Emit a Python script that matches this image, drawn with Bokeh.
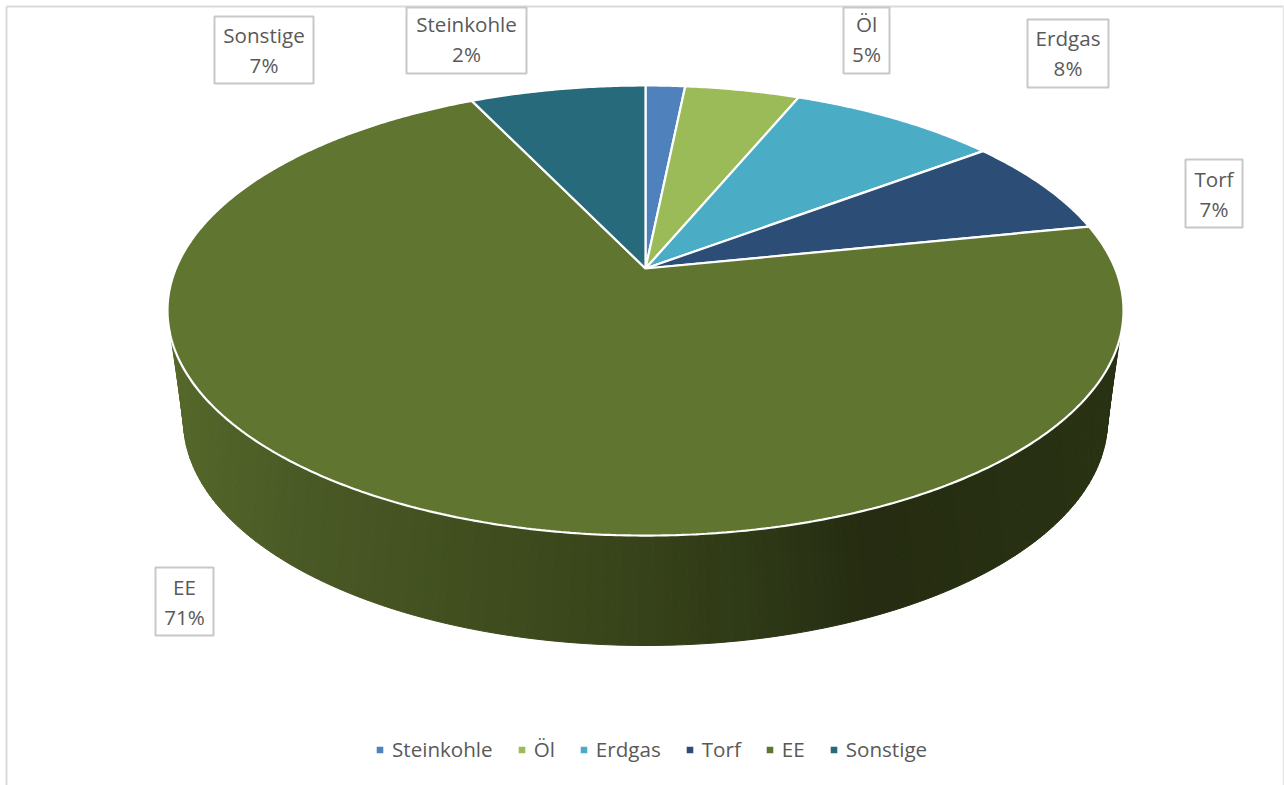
import numpy as np
from bokeh.plotting import figure
from bokeh.models import Range1d, Legend, LegendItem
from bokeh.core.properties import value
from bokeh.embed import file_html
from bokeh.resources import INLINE

# data
categories = ["Steinkohle", "Öl", "Erdgas", "Torf", "EE", "Sonstige"]
shares = [1.6, 4.65, 8.49, 7.05, 71.1, 7.11]
percent_labels = ["2%", "5%", "8%", "7%", "71%", "7%"]
colors = ["#4f81bd", "#9bbb59", "#4bacc6", "#2c4d75", "#5f7530", "#276a7c"]

# layout (page pixels)
FONT = "Open Sans"
TXT = "#595959"
FS = "20.6px"
label_boxes = {  # left, right, top, bottom, text shift
    "Steinkohle": (406, 526, 7, 73, -2),
    "Öl": (843, 889, 7, 73, -2),
    "Erdgas": (1027, 1108, 19, 87, -1),
    "Torf": (1185, 1242, 159, 227, 0),
    "EE": (155, 213, 567, 635, 0),
    "Sonstige": (214, 313, 16, 83, 0),
}
APEX_X, APEX_Y = 645, 268
K, B, A = 0.1867, 217.2, 469.6          # perspective of the pie's top face
RIM = (645, 310, 478, 225)              # ellipse of the top face
FOOT = (645, 420, 462, 225)             # ellipse of the lower edge


def top_point(deg):
    t = np.radians(deg)
    d = 1 + K * np.cos(t)
    return APEX_X + A * np.sin(t) / d, APEX_Y - B * np.cos(t) / d


def ell(e, deg):
    t = np.radians(deg)
    return e[0] + e[2] * np.cos(t), e[1] + e[3] * np.sin(t)


p = figure(width=1284, height=785, output_backend="svg", toolbar_location=None,
           x_range=Range1d(0, 1284), y_range=Range1d(785, 0),
           min_border=0, outline_line_color=None, background_fill_color="white")
p.axis.visible = False
p.grid.visible = False

# chart frame
p.line([6, 6], [6, 785], line_color="#d9d9d9", line_width=2)
p.line([6, 1283], [6, 6], line_color="#d9d9d9", line_width=2)
p.line([1283, 1283], [6, 785], line_color="#e6e6e6", line_width=1.5)

# shaded side wall
stop_x = [170, 300, 450, 640, 800, 870, 1000, 1125]
stop_r = [0x56, 0x4a, 0x42, 0x37, 0x2b, 0x25, 0x28, 0x2a]
stop_g = [0x68, 0x5a, 0x50, 0x43, 0x35, 0x2c, 0x30, 0x32]
stop_b = [0x2a, 0x26, 0x20, 0x1a, 0x15, 0x11, 0x13, 0x14]
phis = np.arange(7.0, 173.01, 1.0)
xs_side, ys_side, fills = [], [], []
for a0, a1 in zip(phis[:-1], phis[1:]):
    r0x, r0y = ell(RIM, a0)
    r1x, r1y = ell(RIM, a1)
    f0x, f0y = ell(FOOT, (a0 - 7) / 166 * 180)
    f1x, f1y = ell(FOOT, (a1 - 7) / 166 * 180)
    xm = (r0x + r1x + f0x + f1x) / 4
    c = [int(np.interp(xm, stop_x, s)) for s in (stop_r, stop_g, stop_b)]
    fills.append("#%02x%02x%02x" % tuple(c))
    xs_side.append([r0x, r1x, f1x, f0x])
    ys_side.append([r0y, r1y, f1y, f0y])
p.patches(xs_side, ys_side, fill_color=fills, line_color=fills, line_width=1)

# top face
cum = np.cumsum([0] + shares)
total = cum[-1]
items = []
for i, cat in enumerate(categories):
    a0, a1 = cum[i] / total * 360, cum[i + 1] / total * 360
    angs = np.arange(a0, a1, 0.5).tolist() + [a1]
    px, py = top_point(np.array(angs))
    xs = [APEX_X] + px.tolist()
    ys = [APEX_Y] + py.tolist()
    r = p.patch(xs, ys, fill_color=colors[i], line_color="white", line_width=2.2)
    items.append(LegendItem(label=cat, renderers=[r]))

# data labels
for cat, pct in zip(categories, percent_labels):
    l, rt, t, b, dy = label_boxes[cat]
    p.quad(left=[l], right=[rt], top=[t], bottom=[b], fill_color="white",
           line_color="#c8c8c8", line_width=2)
    xc, yc = (l + rt) / 2, (t + b) / 2 + dy
    p.text([xc], [yc - 15], text=[cat], text_font=value(FONT), text_font_size=FS,
           text_color=TXT, text_align="center", text_baseline="middle")
    p.text([xc], [yc + 15], text=[pct], text_font=value(FONT), text_font_size=FS,
           text_color=TXT, text_align="center", text_baseline="middle")

legend = Legend(items=items, orientation="horizontal", location=(374, 22),
                glyph_width=11, glyph_height=11, label_standoff=7, spacing=23,
                padding=0, margin=0, border_line_color=None,
                background_fill_alpha=0,
                label_text_font=FONT, label_text_font_size=FS,
                label_text_color=TXT)
p.add_layout(legend, "center")

open("out.html", "w").write(file_html(p, INLINE))
